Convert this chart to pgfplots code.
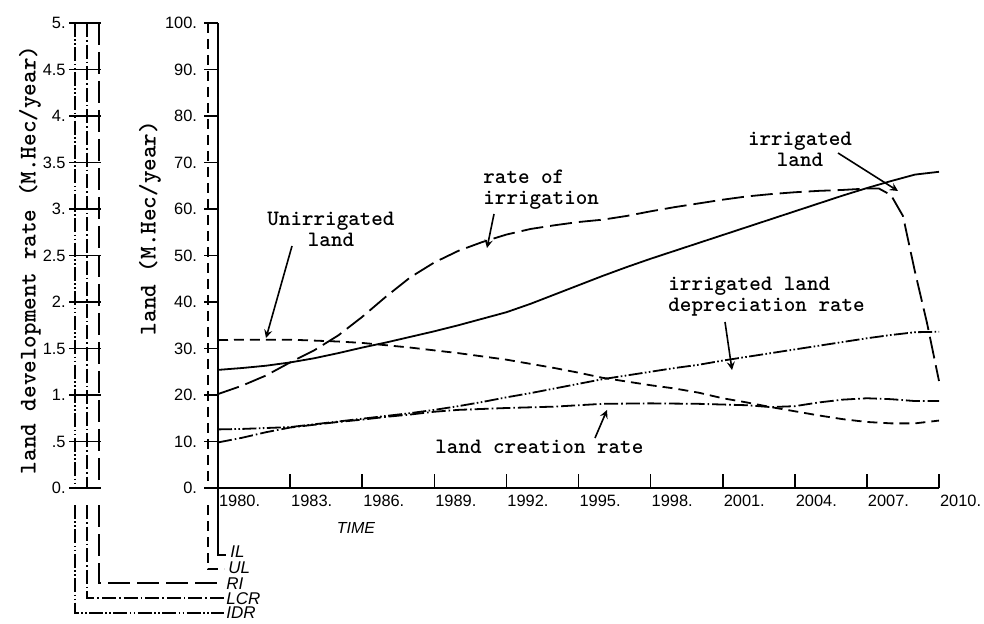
\documentclass[border=0pt]{standalone}
\usepackage{fontspec}
\setmainfont{Liberation Sans}
\newfontfamily\typew{lmmonolt10-bold.otf}
\usepackage{pgfplots}
\pgfplotsset{compat=1.18}

\tikzset{
  il/.style={line width=0.9pt},
  ul/.style={line width=0.9pt, dash pattern=on 5pt off 3pt},
  ri/.style={line width=0.9pt, dash pattern=on 11pt off 3.5pt},
  lcr/.style={line width=0.9pt, dash pattern=on 7pt off 1.5pt on 0.8pt off 1.5pt},
  idr/.style={line width=0.9pt, dash pattern=on 7pt off 1.2pt on 0.8pt off 1.2pt on 0.8pt off 1.2pt},
  note/.style={font=\typew\fontsize{11}{10.5}\selectfont, inner sep=0pt},
  ylab/.style={font=\typew\fontsize{12}{12}\selectfont, rotate=90, inner sep=0pt},
  key/.style={font=\itshape\fontsize{8.5}{9}\selectfont, inner sep=0pt, anchor=west},
}

\begin{document}
\begin{tikzpicture}
\useasboundingbox (0,0) rectangle (492pt,-312pt);

% land scale (M.Hec)
\begin{axis}[
  at={(109pt,-244pt)}, anchor=south west,
  scale only axis, width=360.5pt, height=232.5pt,
  xmin=1980, xmax=2010, ymin=0, ymax=100,
  axis x line*=bottom, axis y line*=left,
  axis line style={-, line width=0.9pt},
  xtick={1980,1983,...,2010},
  xticklabels={1980.,1983.,1986.,1989.,1992.,1995.,1998.,2001.,2004.,2007.,2010.},
  ytick={0,10,...,100},
  yticklabels={0.,10.,20.,30.,40.,50.,60.,70.,80.,90.,100.},
  xtick align=inside, ytick align=outside,
  major tick length=7pt,
  tick style={line width=0.8pt, black},
  x tick label style={anchor=north west, xshift=-3pt, font=\fontsize{8.2}{9}\selectfont},
  y tick label style={font=\fontsize{8.2}{9}\selectfont},
  clip=false,
]
% IL: irrigated land
\addplot[il] coordinates {
  (1980,25.4)(1981,25.8)(1982,26.3)(1983,27.0)(1984,27.9)(1985,29.0)(1986,30.2)
  (1987,31.3)(1988,32.5)(1989,33.7)(1990,35.0)(1991,36.4)(1992,37.8)(1993,39.6)
  (1994,41.6)(1995,43.6)(1996,45.6)(1997,47.5)(1998,49.3)(1999,51.0)(2000,52.7)
  (2001,54.4)(2002,56.1)(2003,57.8)(2004,59.5)(2005,61.2)(2006,62.9)(2007,64.5)
  (2008,66.0)(2009,67.4)(2010,68.0)
};
% UL: unirrigated land
\addplot[ul] coordinates {
  (1980,31.8)(1981,31.9)(1982,31.9)(1983,31.9)(1984,31.7)(1985,31.5)(1986,31.2)
  (1987,30.7)(1988,30.2)(1989,29.6)(1990,29.0)(1991,28.3)(1992,27.6)(1993,26.7)
  (1994,25.8)(1995,24.8)(1996,23.7)(1997,22.9)(1998,22.1)(1999,21.4)(2000,20.5)
  (2001,19.3)(2002,18.4)(2003,17.4)(2004,16.5)(2005,15.6)(2006,14.8)(2007,14.2)
  (2008,13.9)(2009,13.9)(2010,14.5)
};
\end{axis}

% rate scale (M.Hec/year)
\begin{axis}[
  at={(109pt,-244pt)}, anchor=south west,
  scale only axis, width=360.5pt, height=232.5pt,
  xmin=1980, xmax=2010, ymin=0, ymax=5,
  axis lines=none, clip=false,
]
% RI: rate of irrigation
\addplot[ri] coordinates {
  (1980,1.01)(1981,1.10)(1982,1.21)(1983,1.35)(1984,1.48)(1985,1.64)(1986,1.84)
  (1987,2.06)(1988,2.265)(1989,2.425)(1990,2.55)(1991,2.645)(1992,2.725)(1993,2.785)
  (1994,2.825)(1995,2.86)(1996,2.885)(1997,2.925)(1998,2.975)(1999,3.02)(2000,3.06)
  (2001,3.10)(2002,3.135)(2003,3.16)(2004,3.18)(2005,3.195)(2006,3.205)(2007,3.22)
  (2007.5,3.22)(2008,3.15)(2008.5,2.925)(2009,2.325)(2009.5,1.775)(2010,1.15)
};
% LCR: land creation rate
\addplot[lcr] coordinates {
  (1980,0.49)(1981,0.54)(1982,0.60)(1983,0.65)(1984,0.68)(1985,0.71)(1986,0.735)
  (1987,0.765)(1988,0.79)(1989,0.82)(1990,0.84)(1992,0.86)(1994,0.875)(1996,0.905)
  (1998,0.91)(2000,0.905)(2002,0.89)(2003,0.87)(2004,0.88)(2005,0.92)(2006,0.95)
  (2007,0.965)(2008,0.955)(2009,0.935)(2010,0.935)
};
% IDR: irrigated land depreciation rate
\addplot[idr] coordinates {
  (1980,0.63)(1981,0.635)(1982,0.645)(1983,0.655)(1984,0.685)(1985,0.715)(1986,0.745)
  (1987,0.775)(1988,0.805)(1989,0.84)(1990,0.88)(1991,0.925)(1992,0.975)(1993,1.02)
  (1994,1.07)(1995,1.12)(1996,1.17)(1997,1.21)(1998,1.25)(1999,1.29)(2000,1.325)
  (2001,1.37)(2002,1.41)(2003,1.45)(2004,1.49)(2005,1.53)(2006,1.57)(2007,1.61)
  (2008,1.645)(2009,1.675)(2010,1.68)
};
\end{axis}

% scales, keys and notes, in pixel units of the reference
\begin{scope}[x=0.5pt, y=-0.5pt]
  % rate scale: one line per rate
  \draw[idr] (75,23) -- (75,488);
  \draw[lcr] (87,23) -- (87,488);
  \draw[ri]  (99,23) -- (99,488);
  \draw[line width=0.8pt] (75,23) -- (101,23) (75,488) -- (101,488);
  \foreach \k/\lab in {0/0.,1/.5,2/1.,3/1.5,4/2.,5/2.5,6/3.,7/3.5,8/4.,9/4.5,10/5.} {
    \draw[line width=0.8pt] (69,488-46.5*\k) -- (101,488-46.5*\k);
    \node[anchor=east, inner sep=0pt, font=\fontsize{8.2}{9}\selectfont] at (66,488-46.5*\k) {\lab};
  }
  % dashed companion of the land scale
  \draw[ul] (208,23) -- (208,488);

  % keys below the scales
  \draw[il]  (218,488) -- (218,555) -- (226,555);
  \draw[ul]  (208,505) -- (208,569) -- (224,569);
  \draw[ri]  (99,505)  -- (99,583)  -- (224,583);
  \draw[lcr] (87,505)  -- (87,598)  -- (224,598);
  \draw[idr] (75,505)  -- (75,613)  -- (224,613);
  \node[key] at (230,552) {IL};
  \node[key] at (228,568) {UL};
  \node[key] at (226,584) {RI};
  \node[key] at (226,599) {LCR};
  \node[key] at (226,613) {IDR};

  \node[font=\itshape\fontsize{8}{9}\selectfont] at (356,528) {TIME};

  % axis titles
  \node[ylab] at (30,260) {land development rate (M.Hec/year)};
  \node[ylab] at (150,228) {land (M.Hec/year)};

  % notes on the curves
  \node[note, align=center] at (331,229) {Unirrigated\\land};
  \draw[line width=0.8pt, -stealth] (292,246) -- (266,338);
  \node[note, align=left, anchor=west] at (483,190) {rate of\\irrigation};
  \draw[line width=0.8pt, -stealth] (494,214) -- (487,248);
  \node[note, align=center] at (800,149) {irrigated\\land};
  \draw[line width=0.8pt, -stealth] (838,153) -- (898,191);
  \node[note, align=left, anchor=west] at (668,297) {irrigated land\\depreciation rate};
  \draw[line width=0.8pt, -stealth] (725,322) -- (732,370);
  \node[note, anchor=west] at (435,447) {land creation rate};
  \draw[line width=0.8pt, -stealth] (595,438) -- (607,410);
\end{scope}
\end{tikzpicture}
\end{document}
